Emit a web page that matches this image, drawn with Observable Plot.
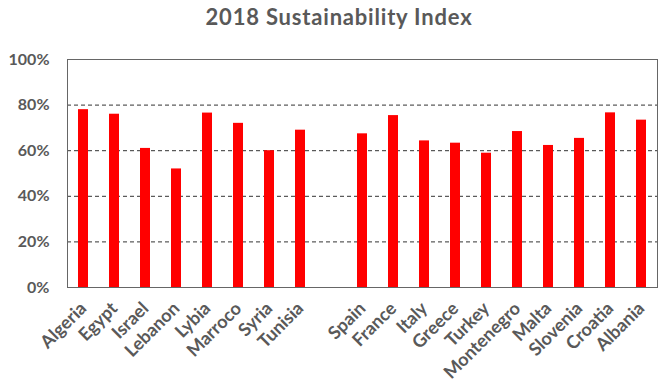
<!DOCTYPE html>
<html><head><meta charset="utf-8">
<script src="https://cdn.jsdelivr.net/npm/d3@7"></script>
<script src="https://cdn.jsdelivr.net/npm/@observablehq/plot@0.6"></script>
<style>
body{margin:0;background:#fff;font-family:Lato,sans-serif}
#title{height:40px;line-height:33px;text-align:center;font-weight:bold;font-size:22px;letter-spacing:0.8px;color:#595959;padding-left:19px;box-sizing:border-box}
</style></head><body>
<div id="title">2018 Sustainability Index</div>
<div id="chart"></div>
<script>
const groupA = ["Algeria","Egypt","Israel","Lebanon","Lybia","Marroco","Syria","Tunisia"];
const valuesA = [78, 76, 61, 52, 76.5, 72, 60, 69];
const groupB = ["Spain","France","Italy","Greece","Turkey","Montenegro","Malta","Slovenia","Croatia","Albania"];
const valuesB = [67.4, 75.4, 64.3, 63.3, 58.9, 68.4, 62.3, 65.4, 76.6, 73.4];
const gapLabel = " ";
const yTicks = [0, 20, 40, 60, 80, 100];
const gridTicks = [20, 40, 60, 80];

const data = [
  ...groupA.map((c, i) => ({country: c, value: valuesA[i]})),
  ...groupB.map((c, i) => ({country: c, value: valuesB[i]}))
];
const domain = [...groupA, gapLabel, ...groupB];

const chart = Plot.plot({
  width: 659,
  height: 347,
  marginTop: 19,
  marginBottom: 100,
  marginLeft: 67,
  marginRight: 2,
  style: {fontFamily: "Lato, sans-serif", fontWeight: "bold", color: "#595959", background: "#fff"},
  x: {domain, paddingInner: 0.68, paddingOuter: 0.34, label: null},
  y: {domain: [0, 100], label: null},
  marks: [
    Plot.ruleY(gridTicks, {stroke: "#333", strokeDasharray: "4,3", strokeWidth: 1}),
    Plot.barY(data, {x: "country", y: "value", fill: "#ff0000"}),
    Plot.frame({stroke: "#666", strokeWidth: 1}),
    Plot.axisY(yTicks, {tickSize: 0, tickPadding: 18, tickFormat: d => d + "%", fontSize: 16, fill: "#595959", label: null}),
    Plot.axisX({tickSize: 0, tickPadding: 18, tickRotate: -45, fontSize: 18, fill: "#595959", label: null})
  ]
});
document.getElementById("chart").appendChild(chart);
</script>
</body></html>
